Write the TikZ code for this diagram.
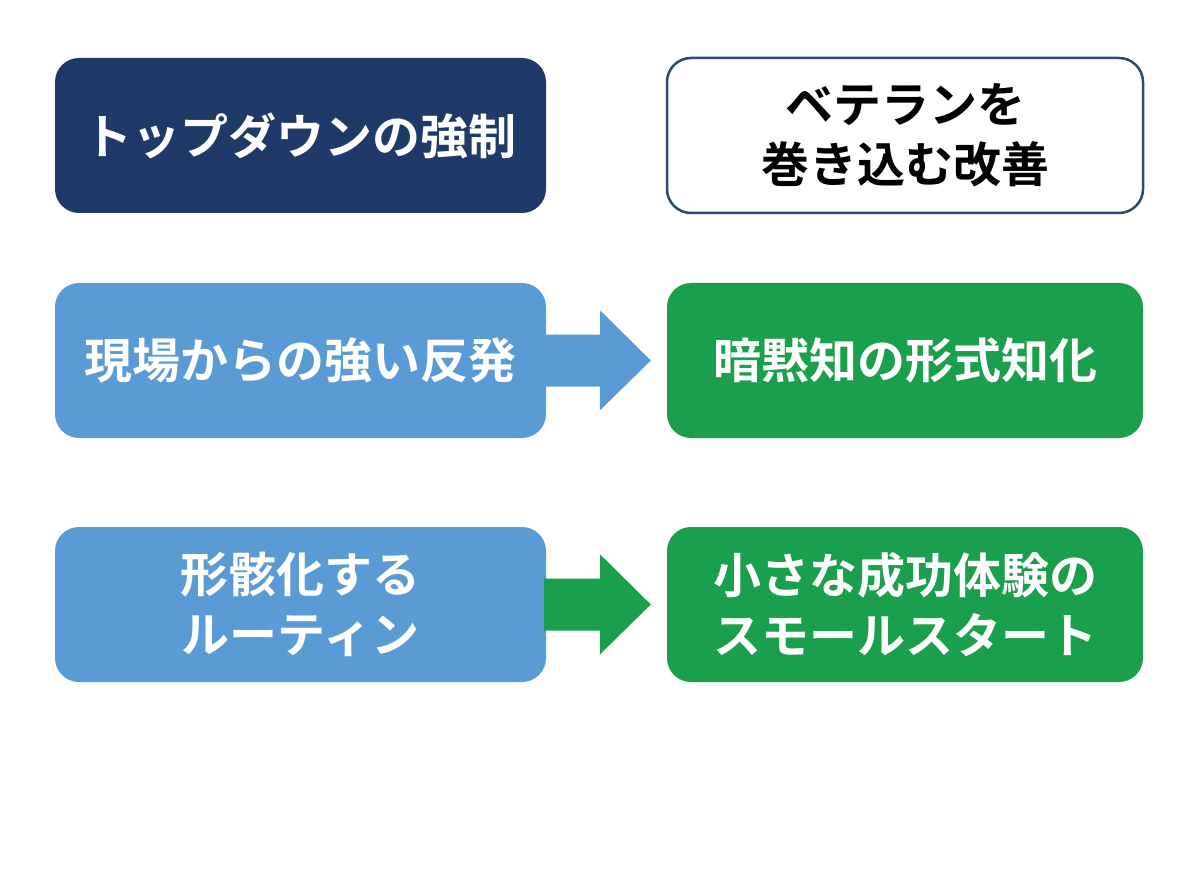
\documentclass[tikz,border=0pt]{standalone}
\usepackage{fontspec}
\newfontfamily\jp{Noto Sans CJK JP}[BoldFont={* Bold}]
\definecolor{navy}{HTML}{1F3A68}
\definecolor{navyline}{HTML}{2E4A72}
\definecolor{lblue}{HTML}{5B9BD5}
\definecolor{dgreen}{HTML}{1A9F4D}
\tikzset{
  box/.style={rounded corners=24pt, minimum width=491pt, minimum height=155pt, inner sep=0pt, align=center,
    font=\jp\bfseries\fontsize{48}{60}\selectfont},
  boxr/.style={box, minimum width=476pt}
}
\begin{document}
\begin{tikzpicture}[x=1pt,y=-1pt]
\useasboundingbox (0,0) rectangle (1200,896);
\fill[white] (0,0) rectangle (1200,896);
% top row
\node[box, fill=navy, text=white] (tl) at (300.5,135.5) {トップダウンの強制};
\node[boxr, fill=white, draw=navyline, line width=2.5pt, text=black] (tr) at (905,135.5) {ベテランを\\巻き込む改善};
% middle row
\node[box, fill=lblue, text=white] (ml) at (300.5,360.5) {現場からの強い反発};
\node[boxr, fill=dgreen, text=white] (mr) at (905,360.5) {暗黙知の形式知化};
% bottom row
\node[box, fill=lblue, text=white] (bl) at (300.5,604.5) {形骸化する\\ルーティン};
\node[boxr, fill=dgreen, text=white] (br) at (905,604.5) {小さな成功体験の\\スモールスタート};
% arrows (block arrows from left box to right box)
\path (ml.east) coordinate (a1) (mr.west) coordinate (b1);
\fill[lblue] (a1) ++(-2,-26) -- ++(56,0) -- ++(0,-24) -- ([xshift=-16pt]b1) -- ++(-51,50) -- ++(0,-24) -- ++(-56,0) -- cycle;
\path (bl.east) coordinate (a2) (br.west) coordinate (b2);
\fill[dgreen] (a2) ++(-2,-26) -- ++(56,0) -- ++(0,-24) -- ([xshift=-16pt]b2) -- ++(-51,50) -- ++(0,-24) -- ++(-56,0) -- cycle;
\end{tikzpicture}
\end{document}
